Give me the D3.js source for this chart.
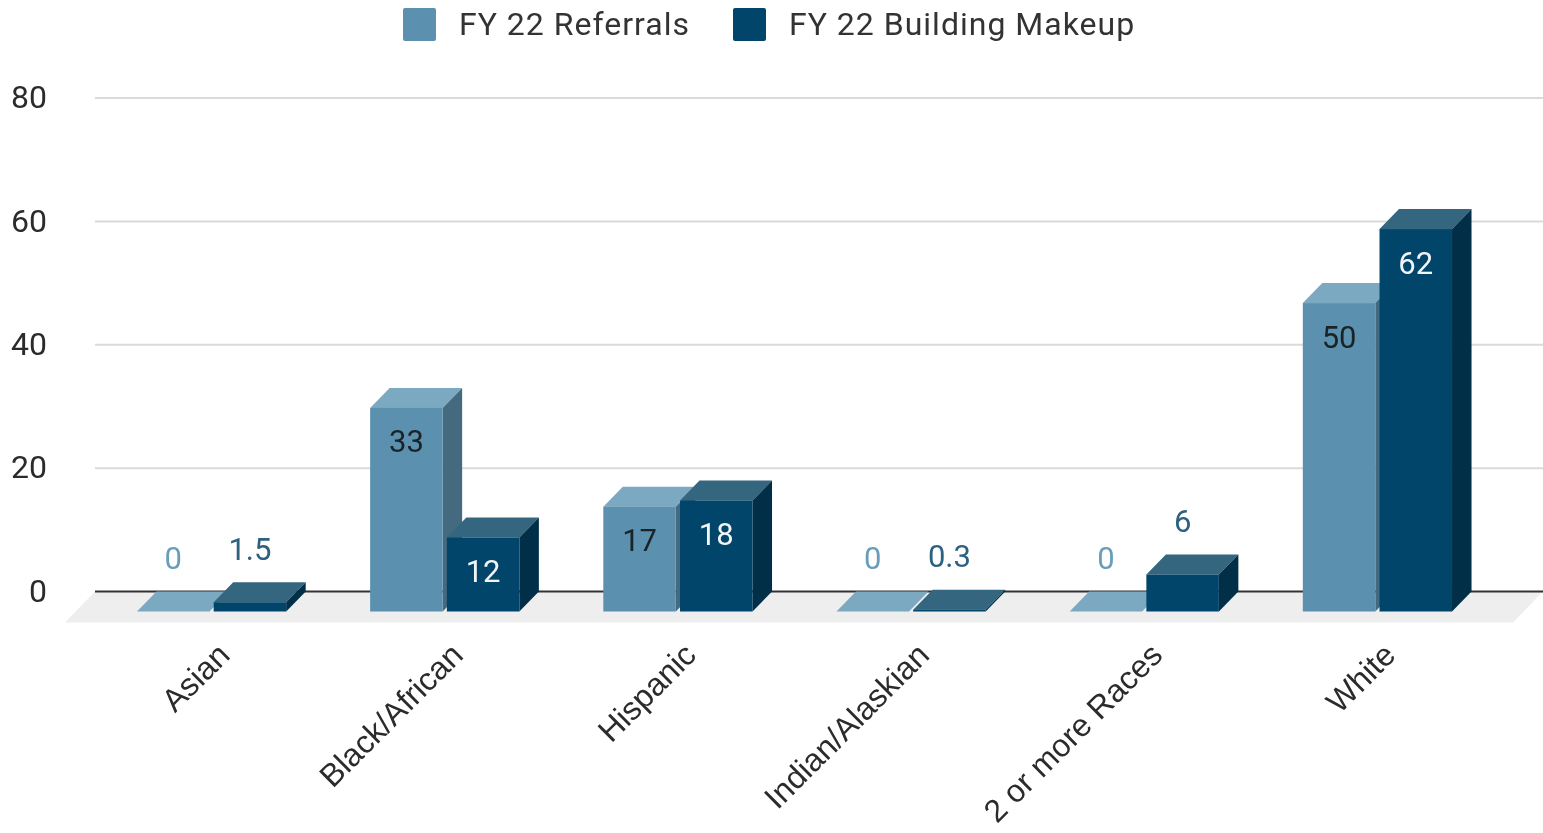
<!DOCTYPE html>
<html><head><meta charset="utf-8">
<script src="https://cdnjs.cloudflare.com/ajax/libs/d3/7.8.5/d3.min.js"></script>
<style>html,body{margin:0;padding:0;background:#fff;overflow:hidden}svg{display:block;filter:blur(0.5px)}text{font-family:Roboto,sans-serif}</style>
</head><body><svg id="c" width="1543" height="833"></svg>
<script>
const categories = ["Asian","Black/African","Hispanic","Indian/Alaskian","2 or more Races","White"];
const referrals = [0,33,17,0,0,50];
const makeup = [1.5,12,18,0.3,6,62];
const seriesNames = ["FY 22 Referrals","FY 22 Building Makeup"];
const yTicks = [0,20,40,60,80];

const W=1543,H=833;
const depthX=19.5, depthY=20;
const colors=[
 {front:"#5b91af",top:"#7ba9c1",side:"#446a80",outer:"#6a9dba"},
 {front:"#02456a",top:"#34677f",side:"#012f47",outer:"#2c6180"}
];
const inside=["#1a2328","#f1f5f7"];
const svg=d3.select("#c");
const y=d3.scaleLinear().domain([0,80]).range([591.5,98]);
const x0=d3.scaleBand().domain(categories).range([95,1494]).paddingInner(0.36).paddingOuter(0.18);
const x1=d3.scaleBand().domain([0,1]).range([0,x0.bandwidth()]).paddingInner(0.055);

// floor
const gx=95,gr=1543;
svg.append("path").attr("fill","#eeeeee")
 .attr("d",d3.line()([[gx,y(0)],[gr,y(0)],[gr-30,y(0)+31],[gx-30,y(0)+31]])+"Z");

// y axis and gridlines
const ax=svg.append("g").attr("transform",`translate(${gx},-0.5)`)
 .call(d3.axisLeft(y).tickValues(yTicks).tickSize(-(gr-gx)).tickPadding(48));
ax.select(".domain").remove();
ax.selectAll(".tick line").attr("stroke",d=>d===0?"#333":"#dadada").attr("stroke-width",2);
ax.selectAll(".tick text").attr("fill","#2b2b2b").style("font-size","32px").style("font-family","Roboto").attr("text-anchor","end");

// x labels
const bx=svg.append("g").attr("transform","translate(0,640)").call(d3.axisBottom(x0).tickSize(0).tickPadding(0));
bx.select(".domain").remove();
bx.selectAll(".tick text").attr("fill","#2b2b2b").style("font-size","32px").style("font-family","'Liberation Sans'")
 .attr("text-anchor","end").attr("dy",0).attr("y",0).attr("dominant-baseline","auto")
 .attr("transform","translate(20,17) rotate(-45)");

// 3D bars
const rows=categories.map((c,i)=>({c,vals:[referrals[i],makeup[i]]}));
const g=svg.append("g");
rows.forEach(r=>{
 r.vals.forEach((v,s)=>{
  const c=colors[s];
  const l=x0(r.c)+x1(s), w=x1.bandwidth(), base=y(0)+depthY, t=y(v)+depthY, b=g.append("g");
  const line=d3.line();
  b.append("path").attr("fill",c.top).attr("d",line([[l,t],[l+w,t],[l+w+depthX,t-depthY],[l+depthX,t-depthY]])+"Z");
  if(v>0){
   b.append("path").attr("fill",c.side).attr("d",line([[l+w,t],[l+w+depthX,t-depthY],[l+w+depthX,base-depthY],[l+w,base]])+"Z");
   b.append("rect").attr("x",l).attr("y",t).attr("width",w).attr("height",base-t).attr("fill",c.front);
  }
 });
});
// data labels
rows.forEach(r=>{
 r.vals.forEach((v,s)=>{
  const isIn=v>=10;
  const l=x0(r.c)+x1(s)+x1.bandwidth()/2;
  const py=isIn? y(v)+depthY+34 : y(v)-33;
  g.append("text").attr("x",l).attr("y",py).attr("text-anchor","middle").attr("dominant-baseline","central")
   .attr("fill",isIn?inside[s]:colors[s].outer).style("font-size","31px").text(v);
 });
});

// legend
const leg=svg.append("g");
const lx=[403,733];
seriesNames.forEach((n,i)=>{
 leg.append("rect").attr("x",lx[i]).attr("y",8).attr("width",33).attr("height",33).attr("rx",2).attr("fill",colors[i].front);
 leg.append("text").attr("x",lx[i]+56).attr("y",24).attr("dominant-baseline","central").attr("fill","#333")
  .style("font-size","32px").style("letter-spacing","1px").text(n);
});
</script></body></html>
